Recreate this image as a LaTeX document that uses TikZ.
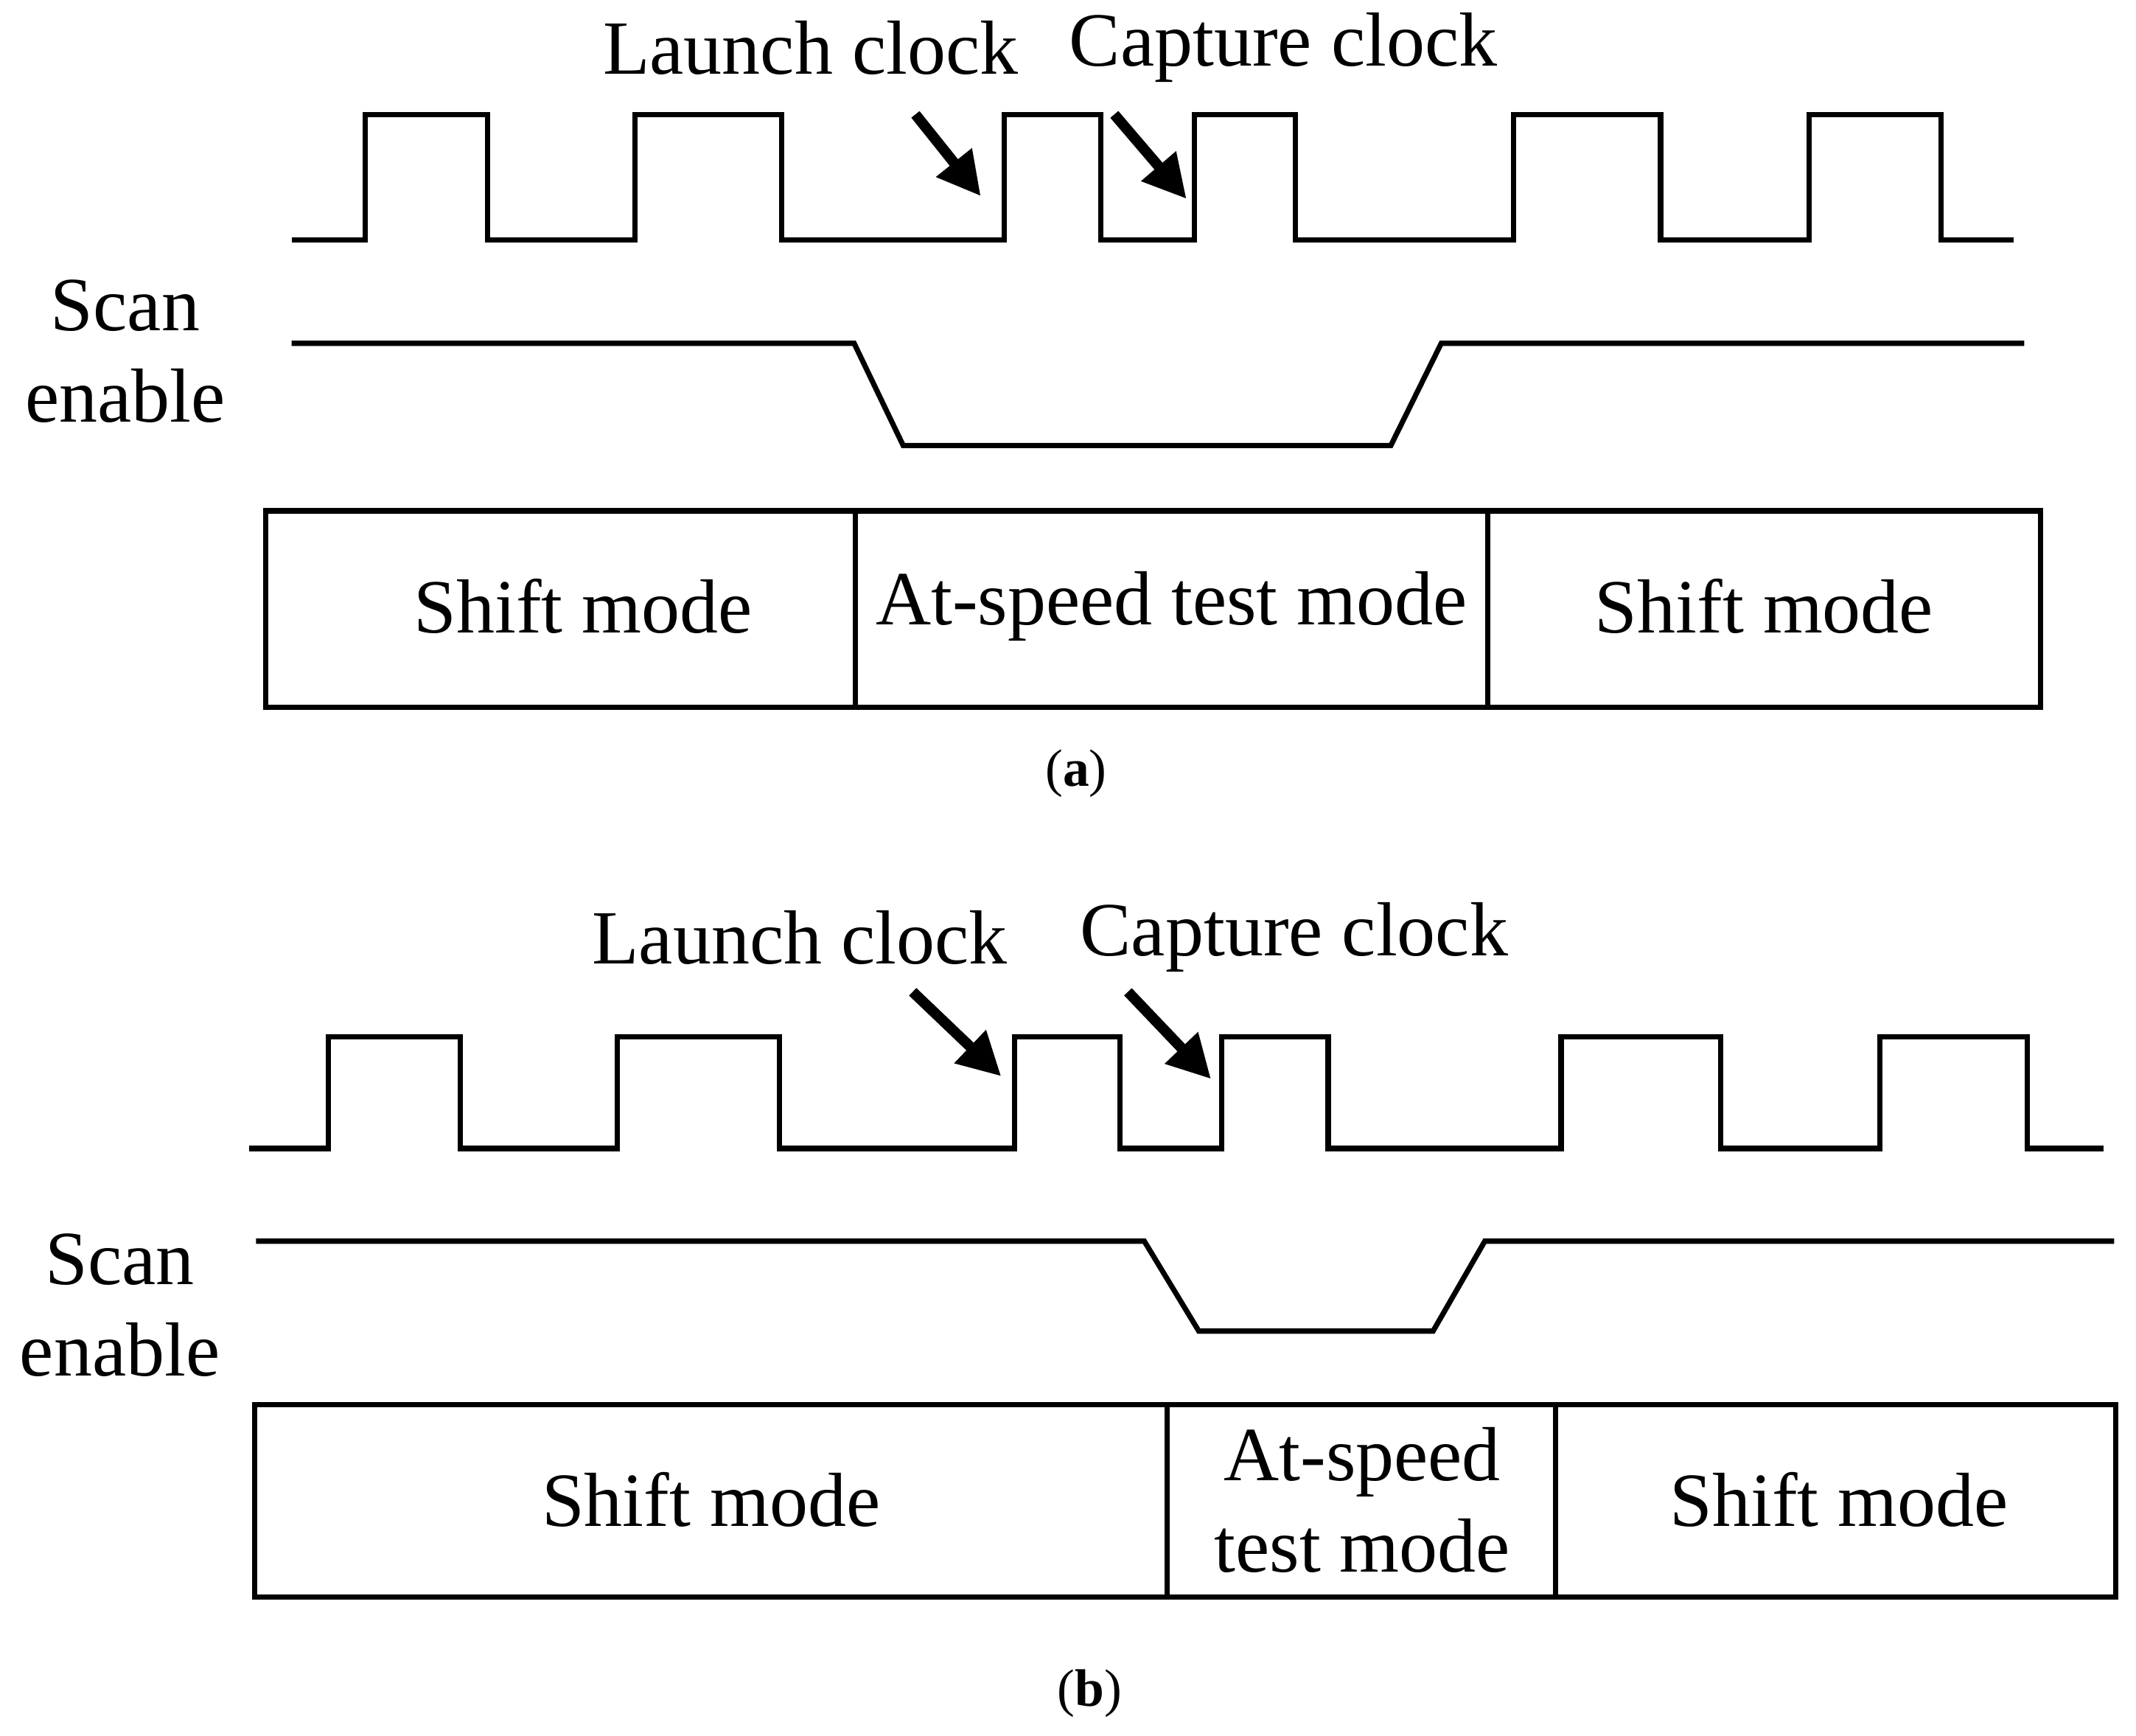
\documentclass[tikz,border=0pt]{standalone}
\usepackage{fontspec}
\setmainfont{Liberation Serif}
\usetikzlibrary{arrows.meta}
\begin{document}
\begin{tikzpicture}[x=0.01cm,y=-0.01cm,
  sig/.style={line width=1.1pt},
  arr/.style={line width=2.2pt,-{Triangle[length=9pt,width=9pt]}},
  lbl/.style={font=\fontsize{16}{19}\selectfont},
  sublbl/.style={font=\fontsize{11}{13}\selectfont}]
\useasboundingbox (0,0) rectangle (1568,1274);
% ---------- (a)
\draw[sig] (214,176) -| (268,84) -| (358,176) -| (466,84) -| (574,176) -| (737,84) -| (808,176) -| (877,84) -| (951,176) -| (1111,84) -| (1219,176) -| (1328,84) -| (1425,176) -- (1478,176);
\draw[sig] (214,252) -- (627,252) -- (663,327) -- (1021,327) -- (1058,252) -- (1486,252);
\node[lbl,align=center] (sea) at (92,258) {Scan\\enable};
\node[lbl] (la) at (595,35) {Launch clock};
\node[lbl] (ca) at (942,35) {Capture clock};
\coordinate (la1) at (672,84); \coordinate (la2) at (720,144);
\coordinate (ca1) at (818,84); \coordinate (ca2) at (871,146);
\draw[arr] (la1) -- (la2);
\draw[arr] (ca1) -- (ca2);
\draw[sig] (195,375) rectangle (1498,519);
\draw[sig] (628,375) -- (628,519);
\draw[sig] (1092,375) -- (1092,519);
\node[lbl] (s1) at (428,445) {Shift mode};
\node[lbl] (s2) at (860,445) {At-speed test mode};
\node[lbl] (s3) at (1295,445) {Shift mode};
\node[sublbl] (pa) at (790,568) {(\textbf{a})};
% ---------- (b)
\draw[sig] (183,843) -| (241,761) -| (338,843) -| (453,761) -| (572,843) -| (745,761) -| (822,843) -| (897,761) -| (975,843) -| (1146,761) -| (1263,843) -| (1380,761) -| (1488,843) -- (1544,843);
\draw[sig] (188,911) -- (840,911) -- (880,977) -- (1052,977) -- (1090,911) -- (1552,911);
\node[lbl,align=center] (seb) at (88,958) {Scan\\enable};
\node[lbl] (lb) at (587,688) {Launch clock};
\node[lbl] (cb) at (950,688) {Capture clock};
\coordinate (lb1) at (670,728); \coordinate (lb2) at (735,790);
\coordinate (cb1) at (828,728); \coordinate (cb2) at (889,792);
\draw[arr] (lb1) -- (lb2);
\draw[arr] (cb1) -- (cb2);
\draw[sig] (187,1031) rectangle (1553,1172);
\draw[sig] (857,1031) -- (857,1172);
\draw[sig] (1142,1031) -- (1142,1172);
\node[lbl] (t1) at (522,1101) {Shift mode};
\node[lbl,align=center] (t2) at (1000,1101) {At-speed\\test mode};
\node[lbl] (t3) at (1350,1101) {Shift mode};
\node[sublbl] (pb) at (800,1243) {(\textbf{b})};
\end{tikzpicture}
\end{document}
